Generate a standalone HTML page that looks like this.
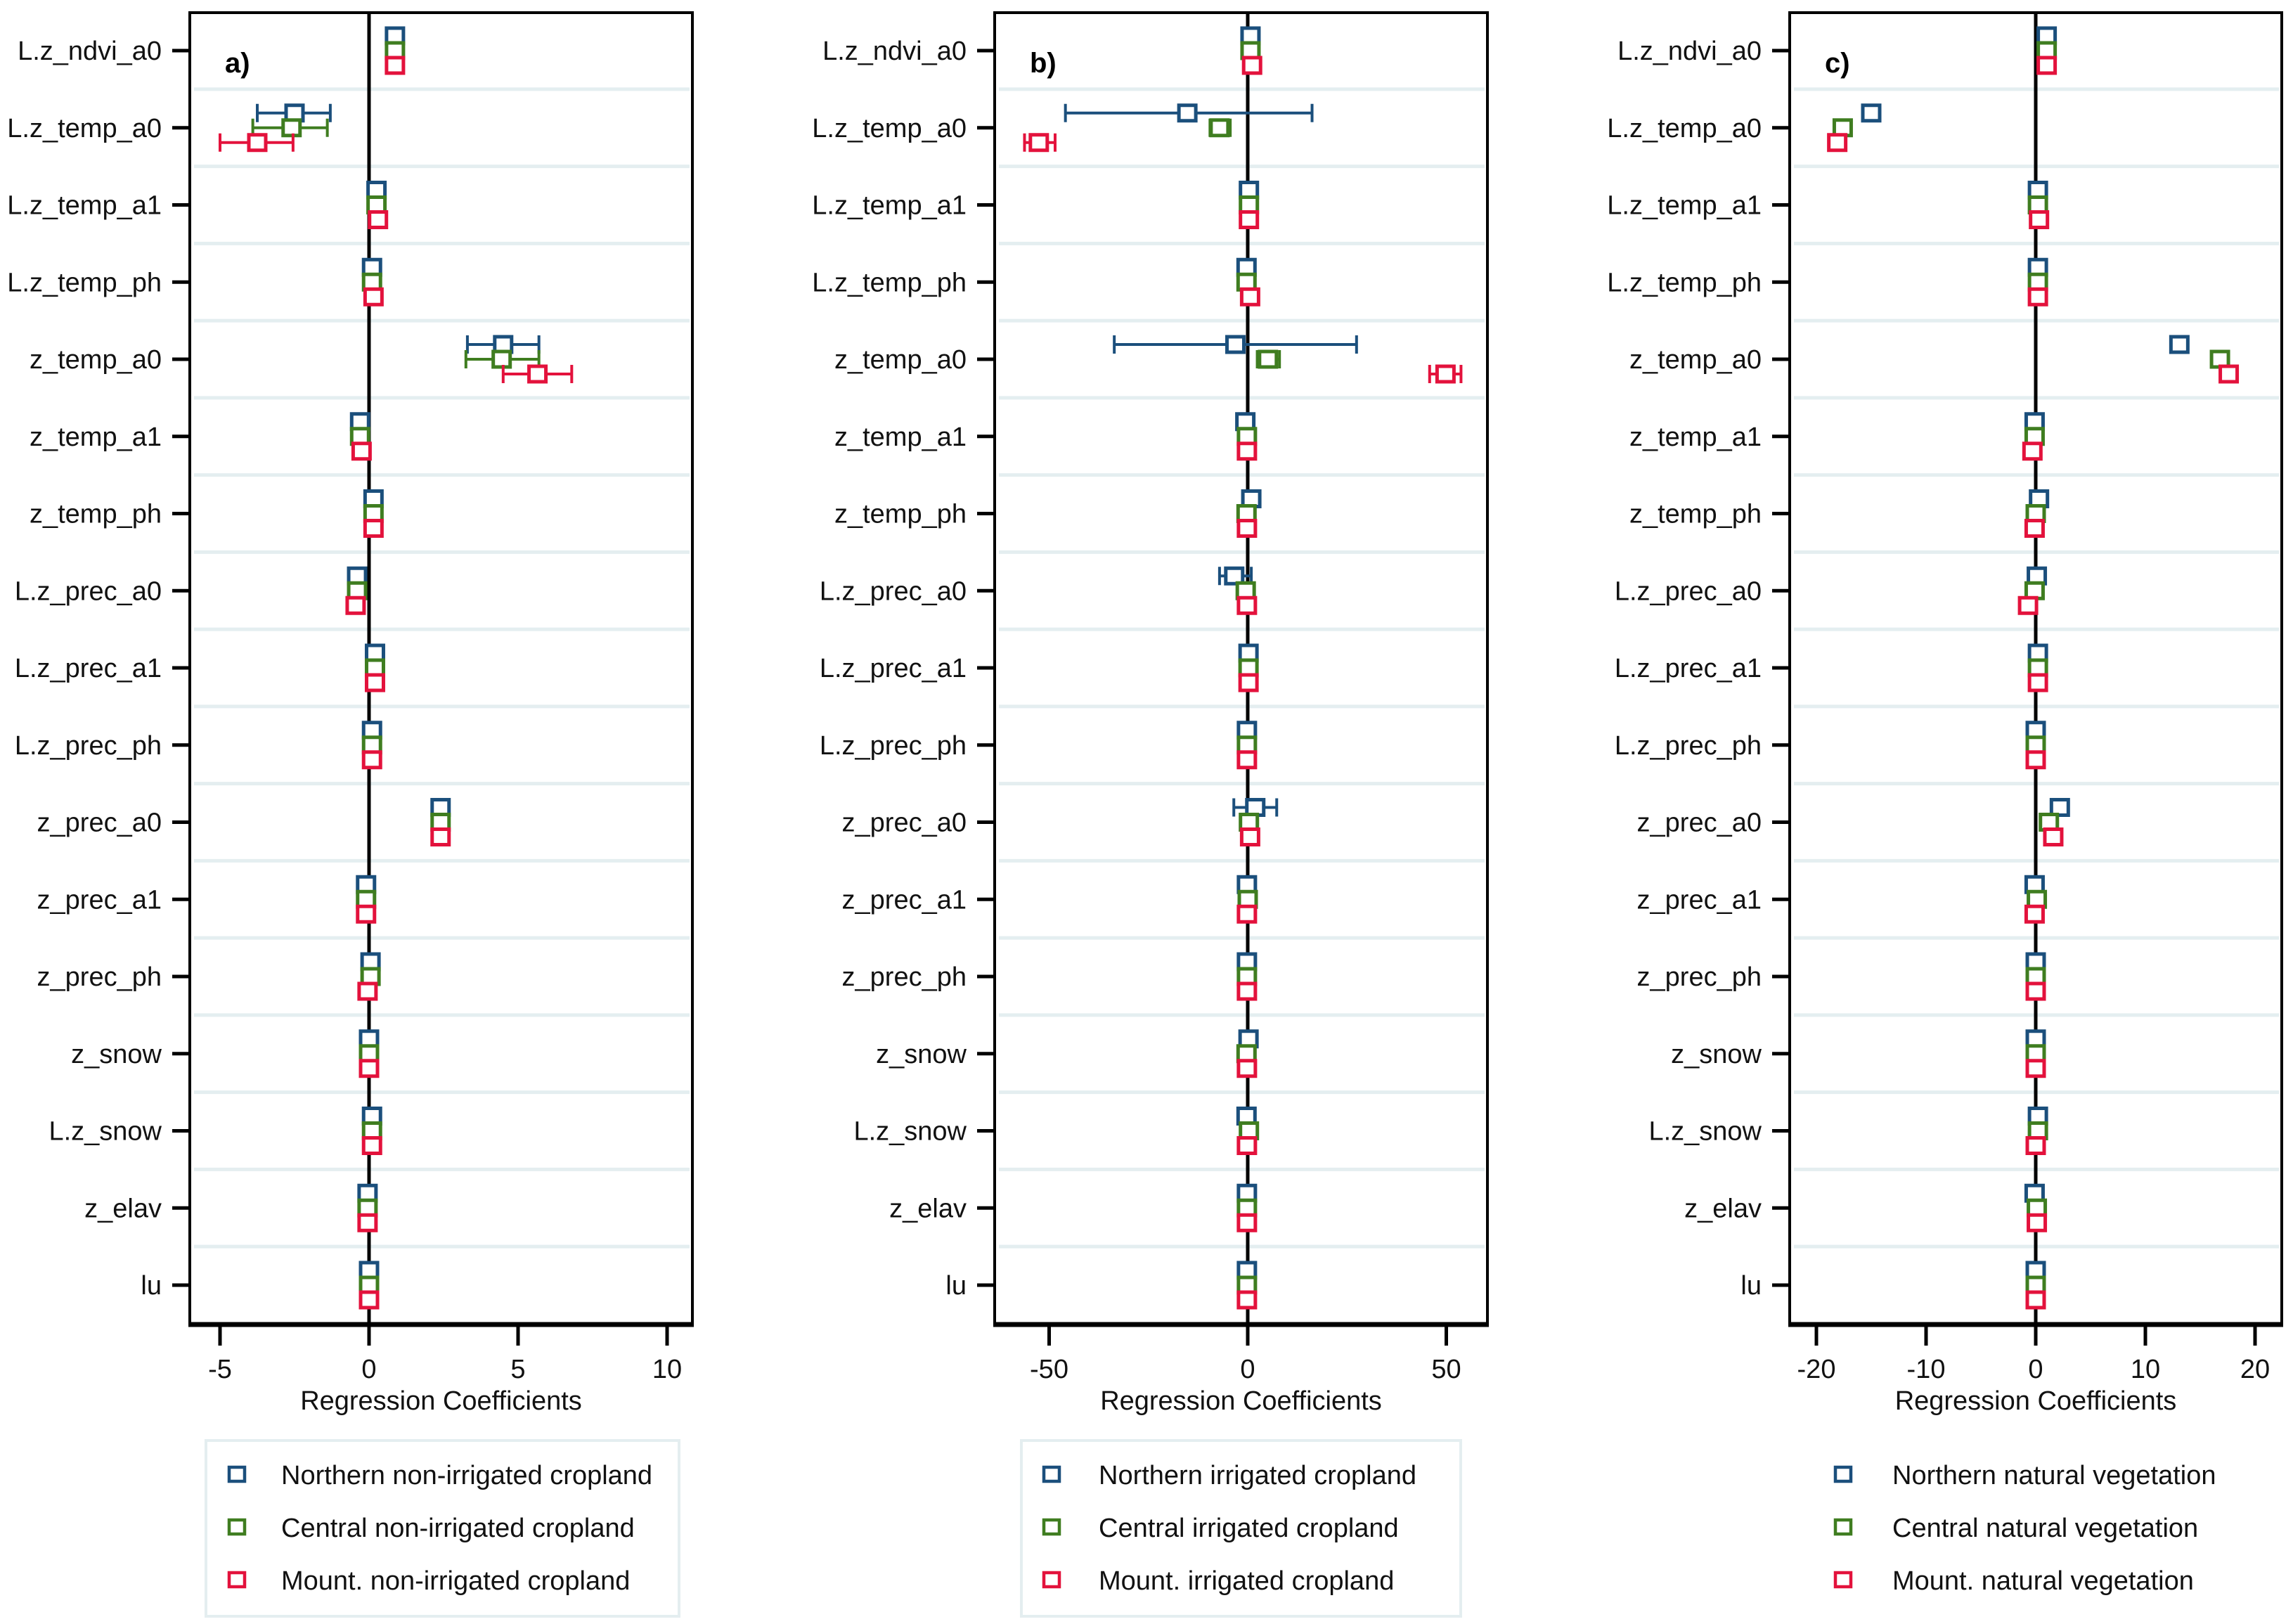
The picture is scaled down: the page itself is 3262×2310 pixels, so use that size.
<!DOCTYPE html>
<html><head><meta charset="utf-8"><style>
html,body{margin:0;padding:0;background:#fff;}
svg{display:block;font-family:"Liberation Sans",Arial,sans-serif;}
</style></head><body>
<svg id="chart" width="3262" height="2310" viewBox="0 0 3262 2310" xmlns="http://www.w3.org/2000/svg"></svg>
<script>
const rowLabels = ["L.z_ndvi_a0","L.z_temp_a0","L.z_temp_a1","L.z_temp_ph","z_temp_a0","z_temp_a1","z_temp_ph","L.z_prec_a0","L.z_prec_a1","L.z_prec_ph","z_prec_a0","z_prec_a1","z_prec_ph","z_snow","L.z_snow","z_elav","lu"];

// Panel a: non-irrigated cropland
const aNorth = [0.87,-2.5,0.25,0.1,4.5,-0.3,0.15,-0.4,0.2,0.1,2.4,-0.1,0.05,0,0.1,-0.05,0];
const aCentral = [0.87,-2.6,0.25,0.1,4.45,-0.3,0.15,-0.4,0.2,0.1,2.4,-0.1,0.05,0,0.1,-0.05,0];
const aMount = [0.87,-3.75,0.3,0.15,5.65,-0.25,0.15,-0.45,0.2,0.1,2.4,-0.1,-0.05,0,0.1,-0.05,0];
const aNorthLo = [null,-3.75,null,null,3.3,null,null,null,null,null,null,null,null,null,null,null,null];
const aNorthHi = [null,-1.3,null,null,5.7,null,null,null,null,null,null,null,null,null,null,null,null];
const aCentralLo = [null,-3.9,null,null,3.25,null,null,null,null,null,null,null,null,null,null,null,null];
const aCentralHi = [null,-1.4,null,null,5.7,null,null,null,null,null,null,null,null,null,null,null,null];
const aMountLo = [null,-5.0,null,null,4.5,null,null,null,null,null,null,null,null,null,null,null,null];
const aMountHi = [null,-2.55,null,null,6.8,null,null,null,null,null,null,null,null,null,null,null,null];
const aTicks = [-5,0,5,10];

// Panel b: irrigated cropland
const bNorth = [0.7,-15.2,0.3,-0.3,-3.1,-0.6,0.9,-3.4,0.2,-0.2,1.9,-0.2,-0.2,0.2,-0.3,-0.2,-0.2];
const bCentral = [0.7,-7.1,0.3,-0.3,5.1,-0.2,-0.3,-0.5,0.2,-0.2,0.3,0,-0.2,-0.3,0.3,-0.2,-0.2];
const bMount = [1.1,-52.6,0.3,0.6,49.8,-0.2,-0.2,-0.2,0.2,-0.2,0.6,-0.2,-0.2,-0.2,-0.2,-0.2,-0.2];
const bNorthLo = [null,-45.9,null,null,-33.6,null,null,-7.1,null,null,-3.5,null,null,null,null,null,null];
const bNorthHi = [null,16.2,null,null,27.4,null,null,0.9,null,null,7.3,null,null,null,null,null,null];
const bCentralLo = [null,-9.5,null,null,2.4,null,null,null,null,null,null,null,null,null,null,null,null];
const bCentralHi = [null,-4.4,null,null,8.0,null,null,null,null,null,null,null,null,null,null,null,null];
const bMountLo = [null,-56.2,null,null,45.8,null,null,null,null,null,null,null,null,null,null,null,null];
const bMountHi = [null,-48.5,null,null,53.7,null,null,null,null,null,null,null,null,null,null,null,null];
const bTicks = [-50,0,50];

// Panel c: natural vegetation
const cNorth = [1.0,-15.0,0.2,0.2,13.1,-0.1,0.3,0.1,0.2,0,2.2,-0.1,0,0,0.2,-0.1,0];
const cCentral = [1.0,-17.6,0.2,0.2,16.8,-0.1,0,-0.1,0.2,0,1.2,0.1,0,0,0.2,0.1,0];
const cMount = [1.0,-18.1,0.3,0.2,17.6,-0.3,-0.1,-0.7,0.2,0,1.6,-0.1,0,0,0,0.1,0];
const cTicks = [-20,-10,0,10,20];

const legendA = ["Northern non-irrigated cropland","Central non-irrigated cropland","Mount. non-irrigated cropland"];
const legendB = ["Northern irrigated cropland","Central irrigated cropland","Mount. irrigated cropland"];
const legendC = ["Northern natural vegetation","Central natural vegetation","Mount. natural vegetation"];

const COLORS = ["#1b4f7c","#3f7d20","#e3123c"];
const NS = "http://www.w3.org/2000/svg";
const svg = document.getElementById("chart");
function mk(tag, attrs, parent){
  const e = document.createElementNS(NS, tag);
  for (const k in attrs) e.setAttribute(k, attrs[k]);
  (parent||svg).appendChild(e);
  return e;
}
const TOP = 18, BOTTOM = 1884, ROW0 = 72, ROWSTEP = 109.75;
function yRow(i){ return ROW0 + i*ROWSTEP; }

function drawPanel(p){
  const g = mk("g", {});
  
  
  const x = v => p.zero + v*p.ppu;
  for (let i=0;i<rowLabels.length-1;i++){
    const yy = (yRow(i)+yRow(i+1))/2;
    const l = mk("line",{x1:p.left+6,x2:p.right-4,y1:yy,y2:yy,stroke:"#e4eef0","stroke-width":5},g);
    
    
  }
  const z = mk("line",{x1:x(0),x2:x(0),y1:TOP,y2:BOTTOM,stroke:"#000","stroke-width":5},g);
  
  
  const fr = mk("rect",{x:p.left,y:TOP,width:p.right-p.left,height:BOTTOM-TOP,fill:"none",stroke:"#000","stroke-width":4},g);
  
  
  const xa = mk("line",{x1:p.left-2,x2:p.right+2,y1:BOTTOM,y2:BOTTOM,stroke:"#000","stroke-width":7},g);
  
  
  rowLabels.forEach((lab,i)=>{
    const t = mk("line",{x1:p.left-25,x2:p.left,y1:yRow(i),y2:yRow(i),stroke:"#000","stroke-width":5},g);
    
    
    const tx = mk("text",{x:p.left-40,y:yRow(i)+13,"text-anchor":"end","font-size":38,fill:"#111"},g);
    tx.textContent = lab;
    
    
  });
  p.ticks.forEach(v=>{
    const t = mk("line",{x1:x(v),x2:x(v),y1:BOTTOM,y2:BOTTOM+30,stroke:"#000","stroke-width":5},g);
    
    
    const tx = mk("text",{x:x(v),y:1960,"text-anchor":"middle","font-size":38,fill:"#111"},g);
    tx.textContent = String(v);
    
    
  });
  const at = mk("text",{x:(p.left+p.right)/2,y:2005,"text-anchor":"middle","font-size":38,fill:"#111"},g);
  at.textContent = "Regression Coefficients";
  
  
  const pl = mk("text",{x:p.left+50,y:103,"font-size":40,"font-weight":"bold",fill:"#000"},g);
  pl.textContent = p.id + ")";
  
  
  p.series.forEach((s,si)=>{
    const off = (si-1)*21;
    s.vals.forEach((v,i)=>{
      const yy = yRow(i)+off;
      if (s.lo && s.lo[i]!==null){
        const e = mk("path",{d:`M${x(s.lo[i])},${yy}H${x(s.hi[i])}M${x(s.lo[i])},${yy-13}V${yy+13}M${x(s.hi[i])},${yy-13}V${yy+13}`,stroke:COLORS[si],"stroke-width":4,fill:"none"},g);
        
        
      }
      const m = mk("rect",{x:x(v)-12,y:yy-11,width:24,height:22,fill:"#fff",stroke:COLORS[si],"stroke-width":5},g);
      
      
    });
  });
  const lg = mk("g",{},g);
  
  
  if (p.legBox){
    mk("rect",{x:p.legBox[0],y:2049,width:p.legBox[1]-p.legBox[0],height:250,fill:"none",stroke:"#e4eef0","stroke-width":4},lg);
  }
  p.legend.forEach((t,i)=>{
    const yy = 2097 + i*75;
    const m = mk("rect",{x:p.legMark-11,y:yy-10,width:22,height:20,fill:"#fff",stroke:COLORS[i],"stroke-width":4.5},lg);
    
    
    const tx = mk("text",{x:p.legText,y:yy+14,"font-size":38,fill:"#111"},lg);
    tx.textContent = t;
    
    
  });
}

drawPanel({id:"a",left:270,right:985,zero:525,ppu:42.4,ticks:aTicks,
  series:[{vals:aNorth,lo:aNorthLo,hi:aNorthHi},{vals:aCentral,lo:aCentralLo,hi:aCentralHi},{vals:aMount,lo:aMountLo,hi:aMountHi}],
  legend:legendA,legBox:[293,966],legMark:337,legText:400});
drawPanel({id:"b",left:1415,right:2116,zero:1775,ppu:5.65,ticks:bTicks,
  series:[{vals:bNorth,lo:bNorthLo,hi:bNorthHi},{vals:bCentral,lo:bCentralLo,hi:bCentralHi},{vals:bMount,lo:bMountLo,hi:bMountHi}],
  legend:legendB,legBox:[1453,2078],legMark:1496,legText:1563});
drawPanel({id:"c",left:2546,right:3246,zero:2896,ppu:15.6,ticks:cTicks,
  series:[{vals:cNorth},{vals:cCentral},{vals:cMount}],
  legend:legendC,legBox:null,legMark:2622,legText:2692});
</script>
</body></html>
